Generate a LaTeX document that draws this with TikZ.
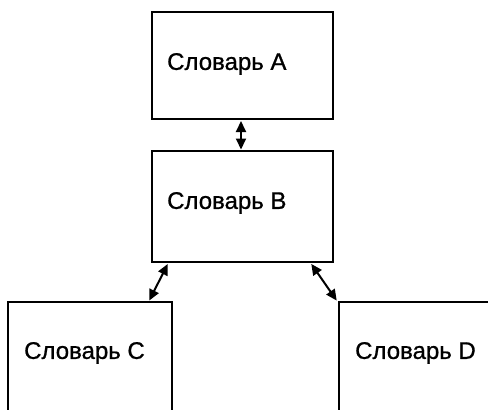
\documentclass[tikz,border=0pt]{standalone}
\usepackage{fontspec}
\setmainfont{Liberation Sans}
\newfontfamily\lblfont{Liberation Sans}[FakeBold=0.9]
\usetikzlibrary{arrows.meta}
\begin{document}
\begin{tikzpicture}[x=1pt,y=-1pt,
  box/.style={draw=black,line width=2.4pt,fill=white},
  lbl/.style={anchor=west,inner sep=0pt,font=\lblfont\fontsize{24}{28}\selectfont},
  link/.style={line width=2pt,{Triangle[length=11pt,width=10pt]}-{Triangle[length=11pt,width=10pt]},shorten <=0.5pt,shorten >=0.5pt}]
\useasboundingbox (0,0) rectangle (488,410);
\fill[white] (0,0) rectangle (488,410);
\clip (0,0) rectangle (488,410);
% boxes
\path[box] (152,12) rectangle (333,119);
\path[box] (152,151) rectangle (333,262);
\path[box] (8,302) rectangle (172,440);
\path[box] (339,302) rectangle (520,440);
\coordinate (Abot) at (241,120.5);
\coordinate (Btop) at (241,150);
\coordinate (Bbl) at (168,263.5);
\coordinate (Ctop) at (149,301);
\coordinate (Bbr) at (311,263.5);
\coordinate (Dtop) at (337,301);
% labels
\node[lbl] (a) at (167,64) {Словарь A};
\node[lbl] (b) at (167,203) {Словарь B};
\node[lbl] (c) at (24,353) {Словарь C};
\node[lbl] (d) at (355,353) {Словарь D};
% connectors
\draw[link] (Abot) -- (Btop);
\draw[link] (Bbl) -- (Ctop);
\draw[link] (Bbr) -- (Dtop);
\end{tikzpicture}
\end{document}
